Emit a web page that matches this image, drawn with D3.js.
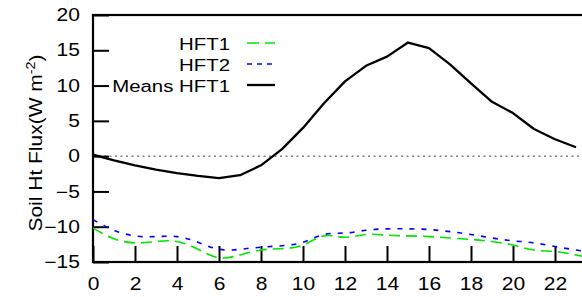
<!DOCTYPE html>
<html>
<head>
<meta charset="utf-8">
<script src="https://cdn.jsdelivr.net/npm/d3@7"></script>
<style>
  body { margin: 0; background: #fff; }
  svg { display: block; font-family: "Liberation Sans", Arial, sans-serif; }
</style>
</head>
<body>
<div id="chart"></div>
<script>
// values
var hoursMean = [0,1,2,3,4,5,6,7,8,9,10,11,12,13,14,15,16,17,18,19,20,21,22,23];
var meansHFT1 = [0.2,-0.6,-1.3,-1.9,-2.4,-2.8,-3.1,-2.7,-1.3,1.0,4.0,7.5,10.6,12.8,14.1,16.1,15.3,13.0,10.3,7.7,6.1,3.85,2.4,1.26];

var hoursHFT = [0,1,2,3,4,5,6,7,8,9,10,11,12,13,14,15,16,17,18,19,20,21,22,23,24];
var hft1 = [-10.2,-11.7,-12.3,-12.1,-12.1,-13.2,-14.4,-14.0,-13.3,-13.1,-12.6,-11.3,-11.5,-11.1,-11.2,-11.3,-11.4,-11.6,-11.8,-12.1,-12.6,-13.3,-13.5,-14.0,-14.6];
var hft2 = [-9.0,-10.5,-11.3,-11.4,-11.4,-12.2,-13.2,-13.2,-12.9,-12.7,-12.2,-11.1,-10.9,-10.5,-10.3,-10.3,-10.4,-10.7,-11.1,-11.6,-12.0,-12.3,-12.8,-13.3,-13.7];

var xTicks = [0,2,4,6,8,10,12,14,16,18,20,22];
var yTicks = [-15,-10,-5,0,5,10,15,20];

var W = 582, H = 297;
var sx = 1.2; // text in the reference is wider than Liberation Sans

var svg = d3.select("#chart").append("svg")
    .attr("width", W)
    .attr("height", H);

var x = d3.scaleLinear().domain([0, 24]).range([93, 597]);
var y = d3.scaleLinear().domain([-15, 20]).range([262, 15]);

svg.append("clipPath").attr("id", "plot")
  .append("rect")
    .attr("x", x(0)).attr("y", y(20))
    .attr("width", x(24) - x(0)).attr("height", y(-15) - y(20));

// zero line
svg.append("line")
    .attr("x1", x(0)).attr("x2", x(24))
    .attr("y1", y(0)).attr("y2", y(0))
    .attr("stroke", "#444")
    .attr("stroke-width", 1)
    .attr("stroke-dasharray", "2,3.5");

// axes
var gY = svg.append("g")
    .attr("transform", "translate(" + x(0) + ",0)")
    .call(d3.axisLeft(y).tickValues(yTicks).tickSize(-16).tickPadding(11));

var gX = svg.append("g")
    .attr("transform", "translate(0," + y(-15) + ")")
    .call(d3.axisBottom(x).tickValues(xTicks).tickSize(-16).tickPadding(16));

[gX, gY].forEach(function (g) {
    g.select(".domain").remove();
    g.selectAll(".tick line").attr("stroke", "#000").attr("stroke-width", 2);
    g.selectAll(".tick text")
        .attr("fill", "#000")
        .style("font-size", "17.5px")
        .attr("transform", "scale(" + sx + ",1)");
});

// frame
svg.append("rect")
    .attr("x", x(0)).attr("y", y(20))
    .attr("width", x(24) - x(0)).attr("height", y(-15) - y(20))
    .attr("fill", "none")
    .attr("stroke", "#000")
    .attr("stroke-width", 2.2);

var plot = svg.append("g").attr("clip-path", "url(#plot)");

var smooth = d3.line()
    .x(function (d) { return x(d[0]); })
    .y(function (d) { return y(d[1]); })
    .curve(d3.curveNatural);

var straight = d3.line()
    .x(function (d) { return x(d[0]); })
    .y(function (d) { return y(d[1]); });

plot.append("path")
    .datum(d3.zip(hoursHFT, hft1))
    .attr("d", smooth)
    .attr("fill", "none")
    .attr("stroke", "#00e600")
    .attr("stroke-width", 1.6)
    .attr("stroke-dasharray", "11,6");

plot.append("path")
    .datum(d3.zip(hoursHFT, hft2))
    .attr("d", smooth)
    .attr("fill", "none")
    .attr("stroke", "#0000ff")
    .attr("stroke-width", 1.6)
    .attr("stroke-dasharray", "5,7");

plot.append("path")
    .datum(d3.zip(hoursMean, meansHFT1))
    .attr("d", straight)
    .attr("fill", "none")
    .attr("stroke", "#000")
    .attr("stroke-width", 2.3)
    .attr("stroke-linejoin", "round");

// legend
var legend = [
    { name: "HFT1", color: "#00e600", width: 1.6, dash: "12,6" },
    { name: "HFT2", color: "#0000ff", width: 1.6, dash: "5,5" },
    { name: "Means HFT1", color: "#000", width: 2.3, dash: null }
];

legend.forEach(function (d, i) {
    var by = 50 + i * 21;
    svg.append("text")
        .attr("transform", "translate(230," + by + ") scale(" + sx + ",1)")
        .attr("text-anchor", "end")
        .style("font-size", "17px")
        .text(d.name);
    svg.append("line")
        .attr("x1", 247).attr("x2", 275)
        .attr("y1", by - 7).attr("y2", by - 7)
        .attr("stroke", d.color)
        .attr("stroke-width", d.width)
        .attr("stroke-dasharray", d.dash);
});

// y label
var yl = svg.append("text")
    .attr("transform", "translate(42,143) rotate(-90) scale(" + sx + ",1)")
    .attr("text-anchor", "middle")
    .style("font-size", "17.5px")
    .text("Soil Ht Flux(W m");
yl.append("tspan").attr("dy", -7).style("font-size", "12px").text("-2");
yl.append("tspan").attr("dy", 7).text(")");
</script>
</body>
</html>
